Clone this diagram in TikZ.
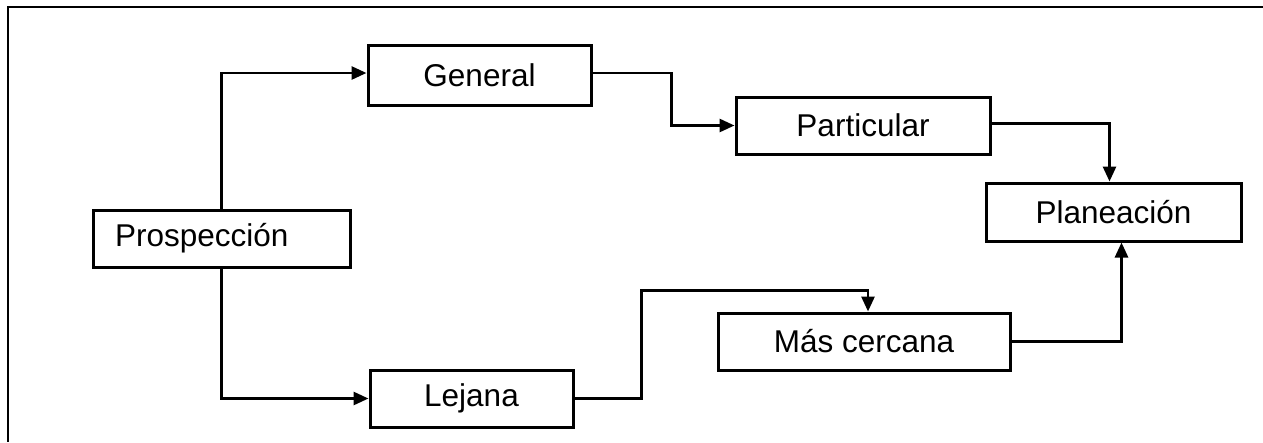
\documentclass[tikz,border=0pt]{standalone}
\usepackage{fontspec}
\setmainfont{Liberation Sans}
\usetikzlibrary{arrows.meta}
\tikzset{
  box/.style={draw, line width=3pt, rectangle, inner sep=0pt, font=\fontsize{31.5}{36}\selectfont},
  arr/.style={line width=2.8pt, -{Triangle[length=15pt,width=13pt]}},
}
\begin{document}
\begin{tikzpicture}[x=1pt,y=-1pt]
\useasboundingbox (0,0) rectangle (1263,442);
\fill[white] (0,0) rectangle (1263,442);
% frame
\draw[line width=2.6pt] (1263,7) -- (8,7) -- (8,442);
% boxes
\node[box, minimum width=257, minimum height=57, text width=213, align=left, inner xsep=22pt] (pros) at (221.5,238.5) {Prospección};
\node[box, minimum width=223, minimum height=60] (gen) at (479.5,75) {General};
\node[box, minimum width=203, minimum height=57] (lej) at (471.5,398.5) {Lejana};
\node[box, minimum width=254, minimum height=57] (par) at (863,125.5) {Particular};
\node[box, minimum width=255, minimum height=58] (plan) at (1113.5,212) {Planeación};
\node[box, minimum width=292, minimum height=57] (mas) at (864,341.5) {Más cercana};
% connectors
\draw[arr] (pros.north) |- ([yshift=2pt]gen.west);
\draw[arr] (pros.south) |- (lej.west);
\draw[arr] ([yshift=2pt]gen.east) -- ++(79,0) |- (par.west);
\draw[arr] ([yshift=2pt]par.east) -| ([xshift=-4pt]plan.north);
\draw[arr] (mas.east) -| ([xshift=8pt]plan.south);
\draw[arr] (lej.east) -- ++(67,0) |- ([xshift=4pt,yshift=21pt]mas.north) -- ([xshift=4pt]mas.north);
\end{tikzpicture}
\end{document}
